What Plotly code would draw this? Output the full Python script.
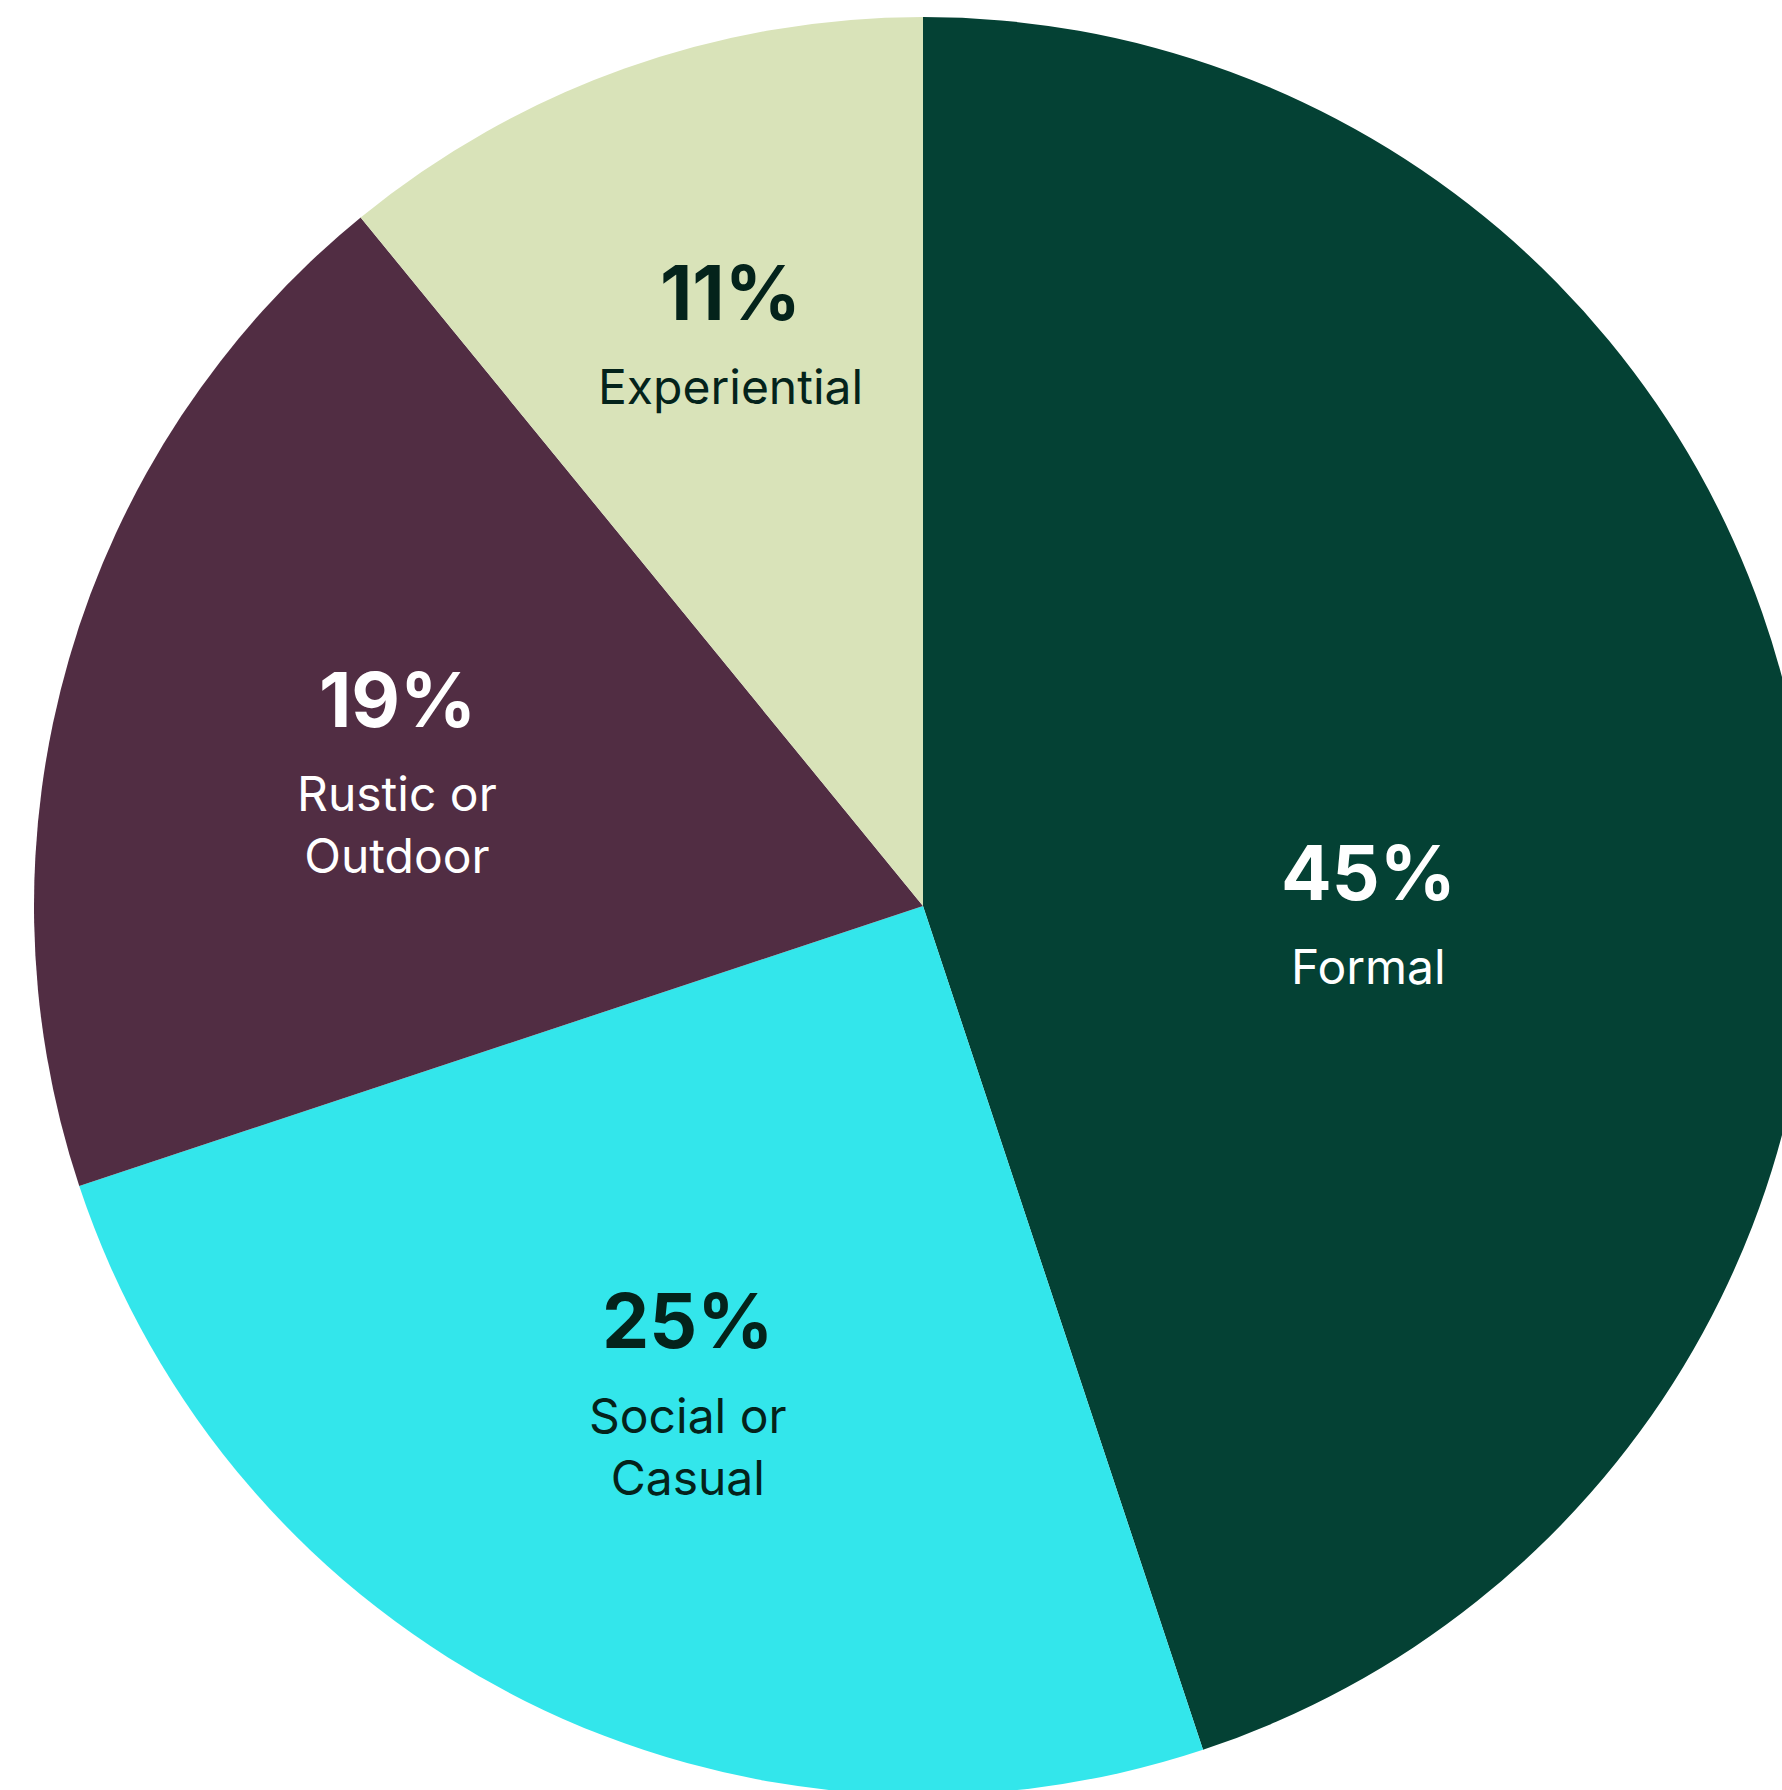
import math
import plotly.graph_objects as go

# ---- data ----
labels = ["Formal", "Social or Casual", "Rustic or Outdoor", "Experiential"]
label_lines = ["Formal", "Social or<br>Casual", "Rustic or<br>Outdoor", "Experiential"]
values = [44.9, 25.0, 19.2, 10.9]

# ---- styles ----
colors = ["#044134", "#33E6EB", "#512D43", "#D9E3B9"]
text_colors = ["#FFFFFF", "#04231B", "#FFFFFF", "#04231B"]
radial_frac = [0.502, 0.59, 0.616, 0.666]
angle_shift = [11.8, 0.0, 0.0, 0.6]

R = 889
L, T = 34, 17
W = L + 2 * R + 34
H = T + 2 * R + 17
FONT = "Inter"

fig = go.Figure(
    go.Pie(
        labels=labels,
        values=values,
        sort=False,
        direction="clockwise",
        rotation=0,
        marker=dict(colors=colors, line=dict(width=0)),
        textinfo="none",
        hoverinfo="label+percent",
        showlegend=False,
    )
)

annotations = []
total = sum(values)
cum = 0
for i, v in enumerate(values):
    mid = (cum + v / 2) / total * 360 + angle_shift[i]
    cum += v
    th = math.radians(mid)
    x = 0.5 + radial_frac[i] * 0.5 * math.sin(th)
    y = 0.5 + radial_frac[i] * 0.5 * math.cos(th)
    pct = round(v / total * 100)
    annotations.append(dict(
        x=x, y=y, xref="paper", yref="paper", showarrow=False,
        text=f"<b>{pct}%</b>", xanchor="center", yanchor="middle", yshift=54,
        font=dict(family=FONT, size=75, color=text_colors[i]),
    ))
    annotations.append(dict(
        x=x, y=y, xref="paper", yref="paper", showarrow=False,
        text=label_lines[i], xanchor="center", yanchor="top", yshift=-9,
        font=dict(family=FONT, size=48, color=text_colors[i]),
    ))

fig.update_layout(
    width=W, height=H,
    margin=dict(l=L, r=W - L - 2 * R, t=T, b=H - T - 2 * R, pad=0),
    paper_bgcolor="#FFFFFF",
    plot_bgcolor="#FFFFFF",
    annotations=annotations,
)

post = (
    "var gd=document.getElementById('{plot_id}');"
    "var p=gd.parentElement;p.style.width='1782px';p.style.height='1790px';"
    "p.style.overflow='hidden';document.body.style.margin='0';"
    "document.body.style.overflow='hidden';document.documentElement.style.overflow='hidden';"
)
fig.write_html("out.html", post_script=post)
